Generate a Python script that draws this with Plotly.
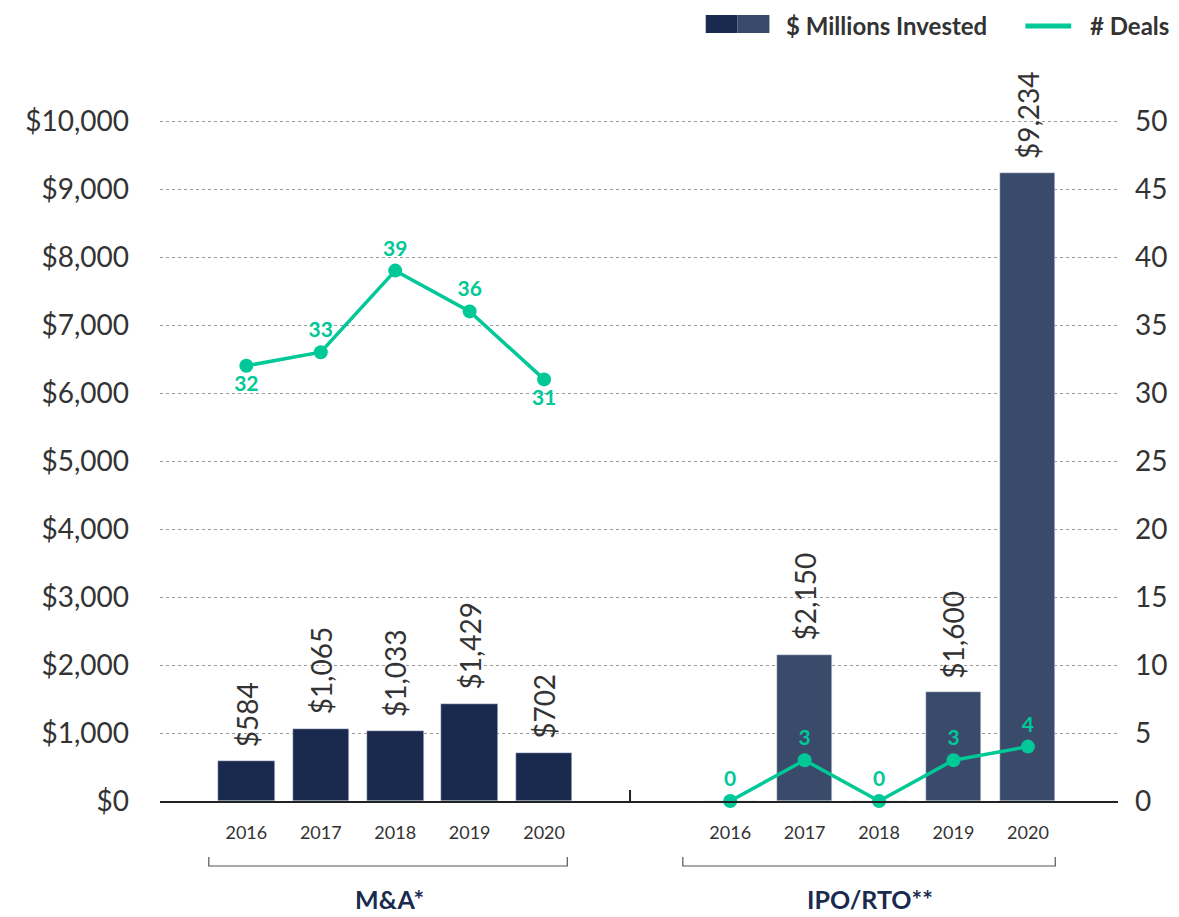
import plotly.graph_objects as go

# ---- data ----
years = ["2016", "2017", "2018", "2019", "2020"]
ma_invested = [584, 1065, 1033, 1429, 702]
ma_deals = [32, 33, 39, 36, 31]
ipo_invested = [0, 2150, 0, 1600, 9234]
ipo_deals = [0, 3, 0, 3, 4]
group_labels = ["M&A*", "IPO/RTO**"]
left_ticks = list(range(0, 10001, 1000))
right_ticks = list(range(0, 51, 5))

# ---- styling ----
NAVY = "#1a2a4f"
SLATE = "#3a4a6b"
TEAL = "#00c896"
TXT = "#333333"
FONT = "Lato"

OFF = 8  # page body margin
W, H = 1179 - OFF, 917 - OFF
L, T = 160 - OFF, 53 - OFF
R = W - (1122 - OFF)
B = H - (801 - OFF)
PW, PH = W - L - R, H - T - B


def pxx(x):
    return (x - OFF - L) / PW


def pxy(y):
    return (H - B - (y - OFF)) / PH


ma_x = [i for i in range(len(years))]
ipo_x = [6.5 + i for i in range(len(years))]

fig = go.Figure()

fig.add_trace(go.Bar(x=ma_x, y=ma_invested, marker_color=NAVY, width=0.76,
                     showlegend=False, hoverinfo="y"))
fig.add_trace(go.Bar(x=ipo_x, y=ipo_invested, marker_color=SLATE, width=0.74,
                     showlegend=False, hoverinfo="y"))

ma_pos = ["bottom center", "top center", "top center", "top center", "bottom center"]
fig.add_trace(go.Scatter(
    x=ma_x, y=ma_deals, yaxis="y2", mode="lines+markers+text",
    line=dict(color=TEAL, width=3.5), marker=dict(color=TEAL, size=14),
    text=[str(v) for v in ma_deals], textposition=ma_pos,
    textfont=dict(family=FONT, size=21, color=TEAL, weight=700),
    cliponaxis=False, showlegend=False,
))
fig.add_trace(go.Scatter(
    x=ipo_x, y=ipo_deals, yaxis="y2", mode="lines+markers+text",
    line=dict(color=TEAL, width=3.5), marker=dict(color=TEAL, size=14),
    text=[str(v) for v in ipo_deals], textposition="top center",
    textfont=dict(family=FONT, size=21, color=TEAL, weight=700),
    cliponaxis=False, showlegend=False,
))

fig.update_layout(
    width=W, height=H,
    margin=dict(l=L, r=R, t=T, b=B),
    plot_bgcolor="white", paper_bgcolor="white",
    font=dict(family=FONT, color=TXT),
    bargap=0, barmode="overlay",
    xaxis=dict(
        range=[-1.16, 11.71], tickvals=ma_x + ipo_x, ticktext=years + years,
        tickfont=dict(size=18, color=TXT), showgrid=False, zeroline=False,
        showline=True, linecolor="#222222", linewidth=2, ticks="",
        ticklabelstandoff=14,
    ),
    yaxis=dict(
        range=[0, 11000], tickvals=left_ticks,
        ticktext=[f"${v:,}" for v in left_ticks],
        tickfont=dict(size=28, color=TXT), showgrid=True,
        gridcolor="#9a9a9a", griddash="3px,3px", gridwidth=1,
        zeroline=False, ticklabelstandoff=30,
    ),
    yaxis2=dict(
        range=[0, 55], tickvals=right_ticks, overlaying="y", side="right",
        tickfont=dict(size=28, color=TXT), showgrid=False, zeroline=False,
        ticklabelstandoff=16,
    ),
)

shapes = []
# divider tick between groups
shapes.append(dict(type="line", xref="paper", yref="paper",
                   x0=pxx(632), x1=pxx(632), y0=pxy(801), y1=pxy(790),
                   line=dict(color="#222222", width=2)))
# group brackets
for x0, x1 in [(209, 569), (685, 1059)]:
    shapes.append(dict(type="path", xref="paper", yref="paper",
                       path=f"M {pxx(x0)} {pxy(857)} L {pxx(x0)} {pxy(866)} L {pxx(x1)} {pxy(866)} L {pxx(x1)} {pxy(857)}",
                       line=dict(color="#555555", width=1.2)))
# legend swatches
shapes.append(dict(type="rect", xref="paper", yref="paper",
                   x0=pxx(708), x1=pxx(740), y0=pxy(33), y1=pxy(15),
                   fillcolor=NAVY, line=dict(width=0)))
shapes.append(dict(type="rect", xref="paper", yref="paper",
                   x0=pxx(740), x1=pxx(772), y0=pxy(33), y1=pxy(15),
                   fillcolor=SLATE, line=dict(width=0)))
shapes.append(dict(type="line", xref="paper", yref="paper",
                   x0=pxx(1029), x1=pxx(1075), y0=pxy(26), y1=pxy(26),
                   line=dict(color=TEAL, width=5)))
fig.update_layout(shapes=shapes)

annotations = [
    dict(text="$ Millions Invested", x=pxx(787), y=pxy(25), xref="paper", yref="paper",
         xanchor="left", yanchor="middle", showarrow=False,
         font=dict(family=FONT, size=24, color=TXT, weight=700)),
    dict(text="# Deals", x=pxx(1092), y=pxy(25), xref="paper", yref="paper",
         xanchor="left", yanchor="middle", showarrow=False,
         font=dict(family=FONT, size=24, color=TXT, weight=700)),
]
for lab, cx in zip(group_labels, [390, 873]):
    annotations.append(dict(text=lab, x=pxx(cx), y=pxy(899), xref="paper", yref="paper",
                            xanchor="center", yanchor="middle", showarrow=False,
                            borderpad=0,
                            font=dict(family=FONT, size=25, color=NAVY, weight=700)))
# rotated value labels above bars
for xs, vals in [(ma_x, ma_invested), (ipo_x, ipo_invested)]:
    for x, v in zip(xs, vals):
        if v:
            annotations.append(dict(text=f"${v:,}", x=x, y=v, xref="x", yref="y",
                                    textangle=-90, xanchor="center", yanchor="bottom",
                                    yshift=12, showarrow=False,
                                    font=dict(family=FONT, size=28, color=TXT)))
fig.update_layout(annotations=annotations)

fig.write_html("out.html")
